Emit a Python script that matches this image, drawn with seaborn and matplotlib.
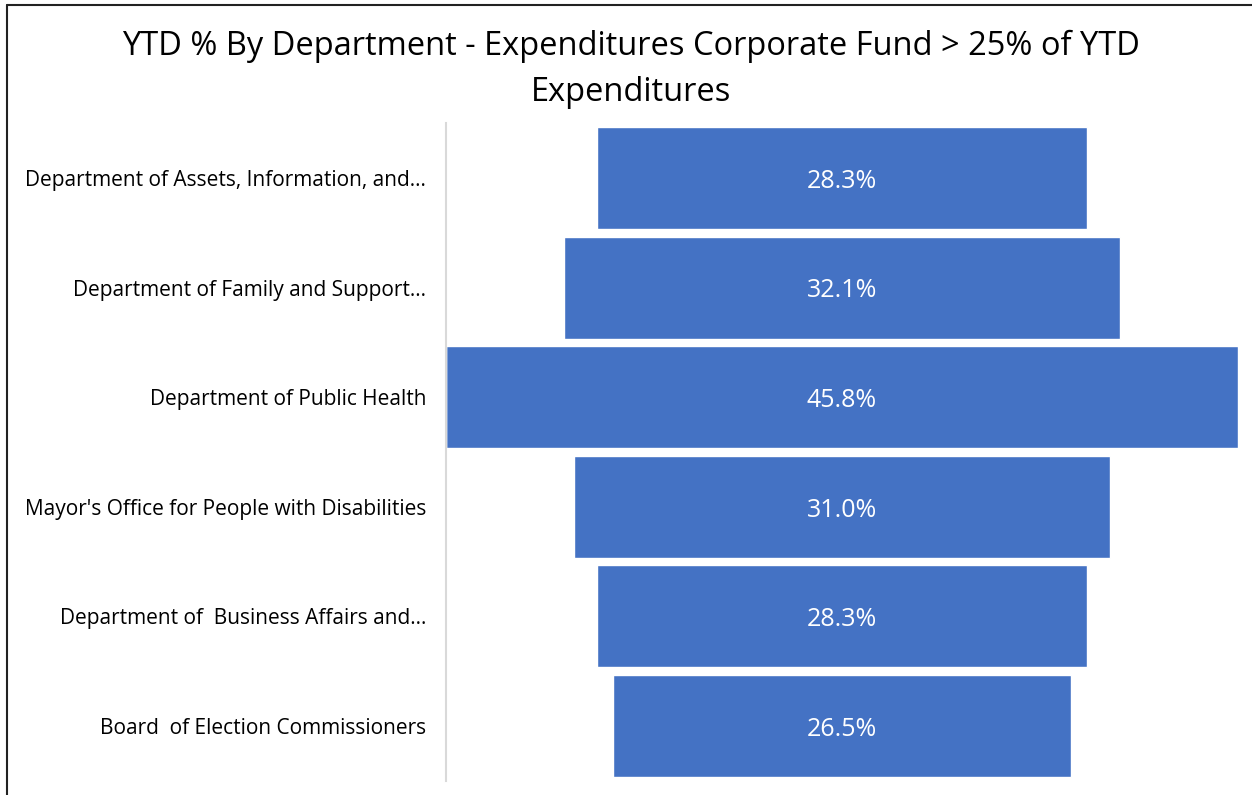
import matplotlib
matplotlib.use("Agg")
import matplotlib.pyplot as plt
import numpy as np
import pandas as pd
import seaborn as sns
from matplotlib.lines import Line2D

departments = [
    "Department of Assets, Information, and\u2026",
    "Department of Family and Support\u2026",
    "Department of Public Health",
    "Mayor's Office for People with Disabilities",
    "Department of  Business Affairs and\u2026",
    "Board  of Election Commissioners",
]
ytd_pct = [28.3, 32.1, 45.8, 31.0, 28.3, 26.5]

sns.set_theme(style="white")
plt.rcParams["font.family"] = ["Open Sans", "DejaVu Sans"]
plt.rcParams["text.color"] = "black"

vals = np.array(ytd_pct)
top = vals.max()
df = pd.DataFrame({
    "dept": departments,
    "right": (top + vals) / 2,   # right edge of each centred bar
    "left": (top - vals) / 2,    # white mask to hide the left part
})

fig = plt.figure(figsize=(12.52, 7.95), dpi=100)
ax = fig.add_axes([0.356, 0.018, 0.633, 0.827])

sns.barplot(data=df, x="right", y="dept", color="#4472C4", saturation=1,
            width=0.93, orient="h", ax=ax)
sns.barplot(data=df, x="left", y="dept", color="white", saturation=1,
            width=0.95, orient="h", ax=ax)

for i, v in enumerate(ytd_pct):
    ax.text(top / 2, i + 0.03, f"{v:.1f}%", color="white", fontsize=18,
            ha="center", va="center")

ax.set_xlim(0, top)
ax.set_xlabel("")
ax.set_ylabel("")
ax.set_xticks([])
ax.tick_params(axis="y", length=0, pad=14, labelsize=15, labelcolor="black")
for lbl in ax.get_yticklabels():
    lbl.set_y(lbl.get_position()[1])
for s in ["top", "right", "bottom"]:
    ax.spines[s].set_visible(False)
ax.spines["left"].set_color("#D9D9D9")
ax.spines["left"].set_linewidth(1.5)
ax.spines["left"].set_zorder(5)

fig.suptitle("YTD % By Department - Expenditures Corporate Fund > 25% of YTD\nExpenditures",
             x=0.504, y=0.962, fontsize=23.5, linespacing=1.5, color="black")

# outer border of the chart area (top and left edges)
fig.add_artist(Line2D([0.0055, 1.0], [0.9935, 0.9935], color="#222222", lw=1.5))
fig.add_artist(Line2D([0.0055, 0.0055], [0.0, 0.9935], color="#222222", lw=1.5))

fig.savefig("out.png", dpi=100)
